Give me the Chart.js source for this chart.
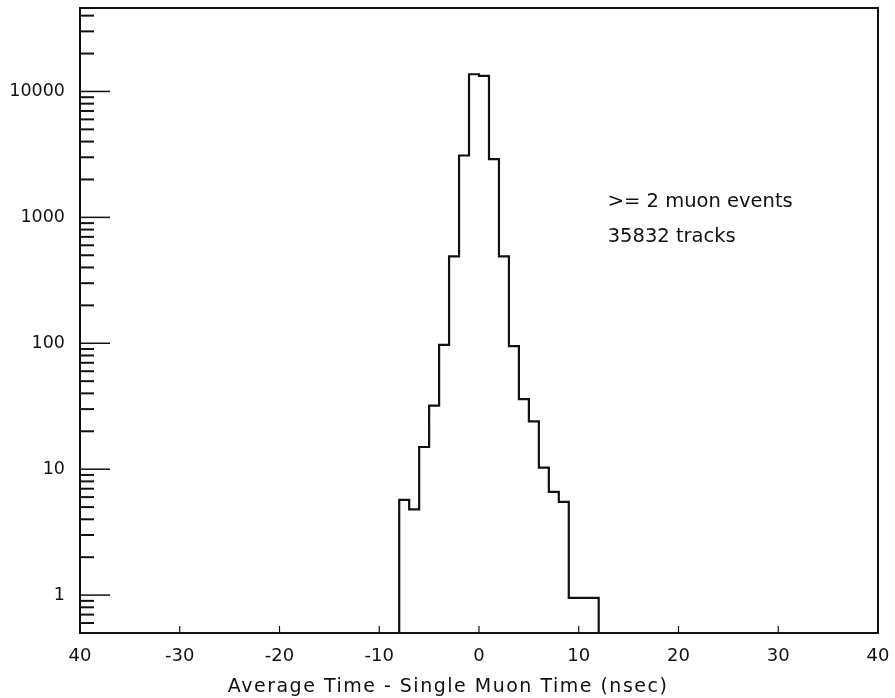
<!DOCTYPE html>
<html>
<head>
<meta charset="utf-8">
<script src="https://cdn.jsdelivr.net/npm/chart.js@4/dist/chart.umd.min.js"></script>
<style>
  html, body { margin: 0; padding: 0; background: #fff; }
  #wrap { width: 895px; height: 698px; }
</style>
</head>
<body>
<div id="wrap"><canvas id="chart"></canvas></div>
<script>
  // Histogram bin edges (ns) and counts
  const binEdges = [-8, -7, -6, -5, -4, -3, -2, -1, 0, 1, 2, 3, 4, 5, 6, 7, 8, 9, 10, 11, 12];
  const binCounts = [5.7, 4.8, 15, 32, 97, 490, 3100, 13700, 13300, 2900, 490, 95, 36, 24, 10.3, 6.6, 5.5, 0.95, 0.95, 0.95];
  const xTicks = [-40, -30, -20, -10, 0, 10, 20, 30, 40];
  const yMin = 0.5;
  const yMax = 46000;
  const noteLines = ['>= 2 muon events', '35832 tracks'];
  const xTitle = 'Average Time - Single Muon Time (nsec)';

  const INK = '#111';
  const FONT = "'DejaVu Sans', sans-serif";

  // step points: drop from axis floor at first edge, back to floor at last edge
  const points = [{ x: binEdges[0], y: yMin }];
  binCounts.forEach((c, i) => points.push({ x: binEdges[i], y: c }));
  points.push({ x: binEdges[binEdges.length - 1], y: yMin });

  const isDecade = v => Math.abs(Math.log10(v) - Math.round(Math.log10(v))) < 1e-9;

  // frame + inward tick marks + text note + axis title
  const decorations = {
    id: 'decorations',
    afterDraw(chart) {
      const { ctx, chartArea: a, scales } = chart;
      ctx.save();
      ctx.strokeStyle = INK;

      // y ticks pointing into the plot
      scales.y.ticks.forEach(t => {
        const sig = t.value / Math.pow(10, Math.floor(Math.log10(t.value) + 1e-9));
        if (Math.abs(sig - Math.round(sig)) > 1e-6) return;
        const py = scales.y.getPixelForValue(t.value);
        const len = isDecade(t.value) ? 30 : 14;
        ctx.lineWidth = isDecade(t.value) ? 1.5 : 2;
        ctx.beginPath();
        ctx.moveTo(a.left, py);
        ctx.lineTo(a.left + len, py);
        ctx.stroke();
      });

      // x ticks pointing up
      ctx.lineWidth = 1.2;
      xTicks.forEach(v => {
        const px = scales.x.getPixelForValue(v);
        ctx.beginPath();
        ctx.moveTo(px, a.bottom);
        ctx.lineTo(px, a.bottom - 7);
        ctx.stroke();
      });

      // frame
      ctx.lineWidth = 2;
      ctx.strokeRect(a.left, a.top, a.right - a.left, a.bottom - a.top);

      ctx.fillStyle = INK;
      ctx.textBaseline = 'alphabetic';

      // note
      ctx.font = '19.5px ' + FONT;
      ctx.textAlign = 'left';
      const nx = scales.x.getPixelForValue(12.9);
      ctx.fillText(noteLines[0], nx, scales.y.getPixelForValue(1200));
      ctx.fillText(noteLines[1], nx, scales.y.getPixelForValue(640));

      // x axis title, wide letter spacing like the original typeface
      ctx.font = '19px ' + FONT;
      ctx.letterSpacing = '1.5px';
      ctx.textAlign = 'center';
      ctx.fillText(xTitle, scales.x.getPixelForValue(-3.1), a.bottom + 59);
      ctx.restore();
    }
  };

  new Chart(document.getElementById('chart'), {
    type: 'line',
    data: {
      datasets: [{
        data: points,
        stepped: true,
        borderColor: INK,
        borderWidth: 2.2,
        pointRadius: 0,
        fill: false
      }]
    },
    options: {
      responsive: true,
      maintainAspectRatio: false,
      animation: false,
      layout: { padding: { top: 8, right: 17, left: 0, bottom: 0 } },
      plugins: { legend: { display: false }, tooltip: { enabled: false } },
      scales: {
        x: {
          type: 'linear',
          min: -40,
          max: 40,
          afterBuildTicks(scale) { scale.ticks = xTicks.map(v => ({ value: v })); },
          afterFit(scale) {
            scale.height = 65;
            scale.paddingLeft = 0;
            scale.paddingRight = 0;
          },
          grid: { display: false, drawTicks: false },
          border: { display: false },
          ticks: {
            color: INK,
            padding: 13,
            maxRotation: 0,
            font: { family: FONT, size: 18 },
            callback: v => (v === -40 ? '40' : String(v))
          }
        },
        y: {
          type: 'logarithmic',
          min: yMin,
          max: yMax,
          afterFit(scale) {
            scale.width = 80;
            scale.paddingTop = 0;
            scale.paddingBottom = 0;
          },
          grid: { display: false, drawTicks: false },
          border: { display: false },
          ticks: {
            color: INK,
            padding: 15,
            autoSkip: false,
            font: { family: FONT, size: 17.5 },
            callback: v => (isDecade(v) ? String(v) : '')
          }
        }
      }
    },
    plugins: [decorations]
  });
</script>
</body>
</html>
